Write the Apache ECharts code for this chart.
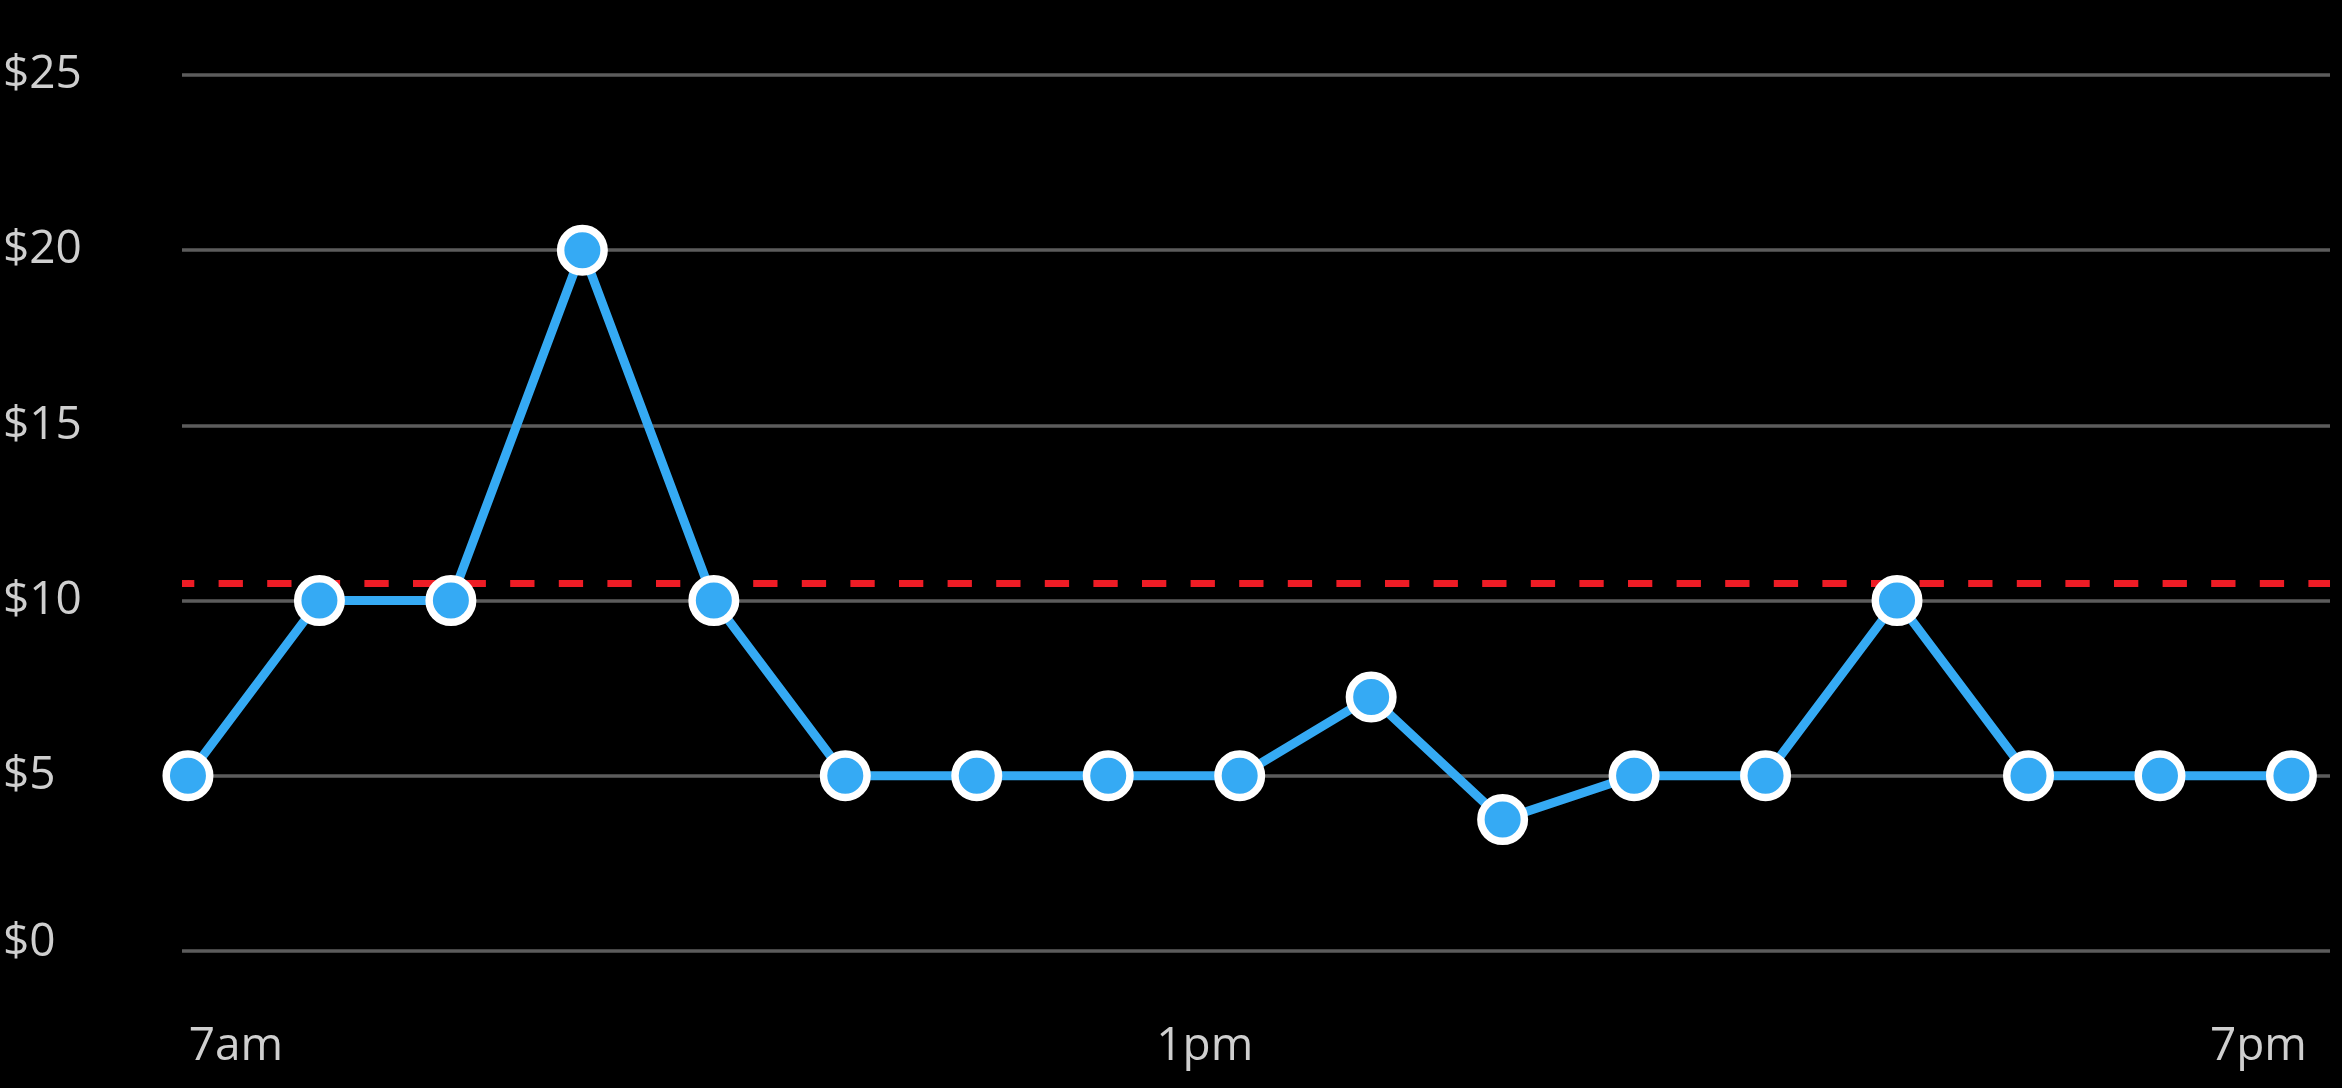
<!DOCTYPE html>
<html>
<head>
<meta charset="utf-8">
<script src="https://cdn.jsdelivr.net/npm/echarts@6/dist/echarts.min.js"></script>
<style>
  html, body { margin: 0; padding: 0; background: #000; }
  #chart { width: 2342px; height: 1088px; }
</style>
</head>
<body>
<div id="chart"></div>
<script>
// Data
const hours = [7, 7.75, 8.5, 9.25, 10, 10.75, 11.5, 12.25, 13, 13.75, 14.5, 15.25, 16, 16.75, 17.5, 18.25, 19];
const values = [5, 10, 10, 20, 10, 5, 5, 5, 5, 7.25, 3.75, 5, 5, 10, 5, 5, 5];
const xTickValues = [7, 13, 19];
const xTickLabels = ['7am', '1pm', '7pm'];
const yTicks = [0, 5, 10, 15, 20, 25];
const referenceLine = 10.5;

const chart = echarts.init(document.getElementById('chart'), null, { renderer: 'canvas' });
const FONT = '"Open Sans", "Noto Sans", sans-serif';
const labelColor = '#cfcfcf';
const FS = 46;

chart.setOption({
  backgroundColor: '#000000',
  animation: false,
  grid: { left: 182, right: 12, top: 75, bottom: 137, containLabel: false },
  xAxis: {
    type: 'value',
    min: 6.966,
    max: 19.22,
    axisLine: { show: false },
    axisTick: { show: false },
    splitLine: { show: false },
    axisLabel: {
      customValues: xTickValues,
      margin: 73,
      color: labelColor,
      fontFamily: FONT,
      fontSize: FS,
      formatter: function (v) {
        const i = xTickValues.indexOf(v);
        const keys = ['a', 'b', 'c'];
        return i >= 0 ? '{' + keys[i] + '|' + xTickLabels[i] + '}' : '';
      },
      rich: {
        a: { fontFamily: FONT, fontSize: FS, color: labelColor, padding: [0, 0, 0, 96] },
        b: { fontFamily: FONT, fontSize: FS, color: labelColor, padding: [0, 70, 0, 0] },
        c: { fontFamily: FONT, fontSize: FS, color: labelColor, padding: [0, 66, 0, 0] }
      }
    }
  },
  yAxis: {
    type: 'value',
    min: yTicks[0],
    max: yTicks[yTicks.length - 1],
    interval: 5,
    axisLine: { show: false },
    axisTick: { show: false },
    axisLabel: {
      align: 'left',
      margin: 179,
      color: labelColor,
      fontFamily: FONT,
      fontSize: FS,
      formatter: function (v) {
        return v === yTicks[0] ? '{z|$' + v + '}' : '$' + v;
      },
      rich: {
        z: { fontFamily: FONT, fontSize: FS, color: labelColor, padding: [0, 0, 16, 0] }
      }
    },
    splitLine: { show: true, lineStyle: { color: '#5c5c5c', width: 3.5 } }
  },
  series: [{
    type: 'line',
    data: hours.map((h, i) => [h, values[i]]),
    symbol: 'circle',
    symbolSize: 43.5,
    lineStyle: { color: '#35aaf4', width: 9 },
    itemStyle: { color: '#35aaf4', borderColor: '#ffffff', borderWidth: 7.5 },
    z: 3,
    markLine: {
      silent: true,
      symbol: ['none', 'none'],
      label: { show: false },
      lineStyle: { color: '#ee1c25', width: 7, type: [24.3, 24.3], dashOffset: 12 },
      data: [{ yAxis: referenceLine }],
      z: 2
    }
  }]
});
</script>
</body>
</html>
